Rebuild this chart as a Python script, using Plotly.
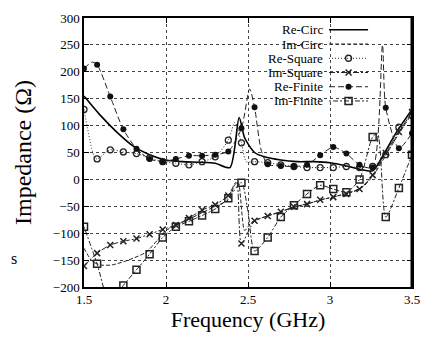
import plotly.graph_objects as go

# ---------------- data ----------------
MARKER_FREQS = [1.50, 1.58, 1.66, 1.74, 1.82, 1.90, 1.98, 2.06, 2.14, 2.22, 2.30, 2.38, 2.46,
                2.54, 2.62, 2.70, 2.78, 2.86, 2.94, 3.02, 3.10, 3.18, 3.26, 3.34, 3.42, 3.50]

re_circ_f = [1.50, 1.60, 1.70, 1.80, 1.90, 2.00, 2.10, 2.20, 2.30, 2.39, 2.446, 2.48, 2.54, 2.60, 2.70,
             2.80, 2.90, 3.00, 3.10, 3.18, 3.26, 3.33, 3.40, 3.50]
re_circ_v = [155, 119, 88, 62, 46, 36, 33, 32, 30, 22, 115, 77, 50, 42, 36,
             33, 33, 31, 25, 19, 16, 48, 85, 130]

im_circ_f = [1.50, 1.55, 1.60, 1.67, 1.77, 1.88, 1.95, 2.00, 2.10, 2.20, 2.30, 2.38, 2.42, 2.44, 2.48,
             2.52, 2.60, 2.70, 2.80, 2.90, 3.00, 3.10, 3.20, 3.27, 3.35, 3.42, 3.50]
im_circ_v = [-128, -152, -159, -159, -150, -135, -112, -95, -80, -65, -50, -38, -10, -5, -95,
             -80, -70, -60, -50, -42, -34, -26, -14, 10, 50, 85, 122]

re_sq_f = [1.50, 1.565, 1.58, 1.66, 1.74, 1.82, 1.90, 1.98, 2.06, 2.14, 2.22, 2.30, 2.38, 2.42, 2.46,
           2.49, 2.54, 2.62, 2.70, 2.78, 2.86, 2.94, 3.02, 3.10, 3.18, 3.26, 3.34, 3.42, 3.50]
re_sq_v = [130, 40, 38, 55, 51, 48, 40, 33, 30, 27, 33, 42, 73, 106, 68,
           33, 33, 31, 27, 24, 22, 22, 22, 24, 22, 24, 46, 97, 119]

im_sq_f = [1.50, 1.58, 1.66, 1.74, 1.82, 1.90, 1.98, 2.06, 2.14, 2.22, 2.30, 2.38, 2.43, 2.46, 2.54,
           2.62, 2.70, 2.78, 2.86, 2.94, 3.02, 3.10, 3.18, 3.26, 3.34, 3.42, 3.50]
im_sq_v = [-161, -137, -122, -115, -110, -102, -93, -85, -72, -57, -47, -30, -4, -119, -77,
           -68, -60, -51, -46, -38, -33, -27, -18, 8, 49, 88, 125]

re_fin_f = [1.50, 1.55, 1.58, 1.66, 1.74, 1.82, 1.90, 1.98, 2.06, 2.14, 2.22, 2.30, 2.38, 2.46, 2.51,
            2.54, 2.58, 2.62, 2.70, 2.78, 2.86, 2.94, 3.02, 3.10, 3.18, 3.26, 3.32, 3.34, 3.42, 3.50]
re_fin_v = [206, 218, 213, 154, 93, 57, 38, 33, 38, 44, 44, 46, 52, 95, 168,
            134, 55, 28, 25, 24, 27, 45, 60, 48, 27, 22, 250, 133, 58, 86]

im_fin_f = [1.50, 1.58, 1.66, 1.74, 1.82, 1.90, 1.98, 2.06, 2.14, 2.22, 2.30, 2.38, 2.46, 2.50,
            2.54, 2.62, 2.70, 2.78, 2.86, 2.94, 3.02, 3.10, 3.18, 3.26, 3.29, 3.34, 3.42, 3.50]
im_fin_v = [-88, -157, -232, -197, -168, -139, -108, -88, -78, -67, -55, -35, -6, -60,
            -133, -108, -70, -48, -27, -11, -18, -24, 0, 79, 85, -70, -16, 46]

LEGEND_LABELS = ["Re-Circ", "Im-Circ", "Re-Square", "Im-Square", "Re-Finite", "Im-Finite"]
X_TICKS = [1.5, 2, 2.5, 3, 3.5]
X_TICK_TEXT = ["1.5", "2", "2.5", "3", "3.5"]
Y_TICKS = [-200, -150, -100, -50, 0, 50, 100, 150, 200, 250, 300]

# ---------------- styles ----------------
SERIF = "Liberation Serif, Times New Roman, serif"
series = [
    (re_circ_f, re_circ_v, dict(color="black", width=1.6, dash="solid"), None),
    (im_circ_f, im_circ_v, dict(color="#222", width=1, dash="4px,2px"), None),
    (re_sq_f, re_sq_v, dict(color="#222", width=1, dash="1px,2px"),
     dict(symbol="circle-open", size=6, color="#222", line=dict(width=1.3))),
    (im_sq_f, im_sq_v, dict(color="#222", width=1, dash="6px,2px,2px,2px"),
     dict(symbol="x-thin-open", size=6, color="#222", line=dict(width=1.5))),
    (re_fin_f, re_fin_v, dict(color="#222", width=1, dash="6px,3px"),
     dict(symbol="circle", size=6, color="#111")),
    (im_fin_f, im_fin_v, dict(color="#222", width=1, dash="2px,2px,5px,2px"),
     dict(symbol="square-open", size=7, color="#222", line=dict(width=1.5))),
]

fig = go.Figure()
for f, v, line, marker in series:
    fig.add_trace(go.Scatter(x=f, y=v, mode="lines", line=dict(shape="spline", smoothing=0.7, **line),
                             showlegend=False, hoverinfo="skip"))
    if marker is not None:
        mf = [a for a in f if round(a, 2) in MARKER_FREQS]
        mv = [b for a, b in zip(f, v) if round(a, 2) in MARKER_FREQS]
        fig.add_trace(go.Scatter(x=mf, y=mv, mode="markers", marker=marker, showlegend=False))

# legend (right-aligned text, sample on the right) drawn on a pixel-mapped overlay axis
row_y = [25, 39.5, 54, 68.5, 83, 97.5]
for lab, yy, (f, v, line, marker) in zip(LEGEND_LABELS, row_y, series):
    fig.add_trace(go.Scatter(x=[335, 375], y=[yy, yy], xaxis="x2", yaxis="y2", mode="lines",
                             line=line, showlegend=False, hoverinfo="skip"))
    if marker is not None:
        fig.add_trace(go.Scatter(x=[355], y=[yy], xaxis="x2", yaxis="y2", mode="markers",
                                 marker=marker, showlegend=False, hoverinfo="skip"))
    fig.add_annotation(x=330, y=yy, xref="x2", yref="y2", text=lab, showarrow=False,
                       xanchor="right", yanchor="middle", borderpad=0,
                       font=dict(family=SERIF, size=13, color="black"))

# stray glyph at the left margin of the original figure
fig.add_annotation(x=-0.214, y=0.106, xref="paper", yref="paper", text="s", showarrow=False,
                   xanchor="center", yanchor="middle",
                   font=dict(family=SERIF, size=16, color="black"))

axis_common = dict(showline=True, linecolor="black", linewidth=1.5, mirror="allticks",
                   ticks="inside", ticklen=5, tickcolor="black",
                   showgrid=True, gridcolor="#444", griddash="dot", gridwidth=1,
                   zeroline=False, tickfont=dict(family=SERIF, size=13, color="black"))

fig.update_layout(
    width=431, height=342,
    margin=dict(l=84, r=11, t=13, b=55),
    paper_bgcolor="white", plot_bgcolor="white",
    xaxis=dict(range=[1.5, 3.5], tickvals=X_TICKS, ticktext=X_TICK_TEXT,
               title=dict(text="Frequency (GHz)", font=dict(family=SERIF, size=22, color="black"), standoff=4),
               **axis_common),
    yaxis=dict(range=[-200, 300], tickvals=Y_TICKS,
               title=dict(text="Impedance (Ω)", font=dict(family=SERIF, size=24, color="black"), standoff=14),
               **axis_common),
    xaxis2=dict(range=[84, 420], overlaying="x", visible=False, fixedrange=True),
    yaxis2=dict(range=[287, 13], overlaying="y", visible=False, fixedrange=True),
    shapes=[dict(type="line", xref="paper", yref="paper", x0=1, x1=1, y0=0, y1=1,
                 line=dict(color="black", width=3))],
)

fig.write_html("out.html")
